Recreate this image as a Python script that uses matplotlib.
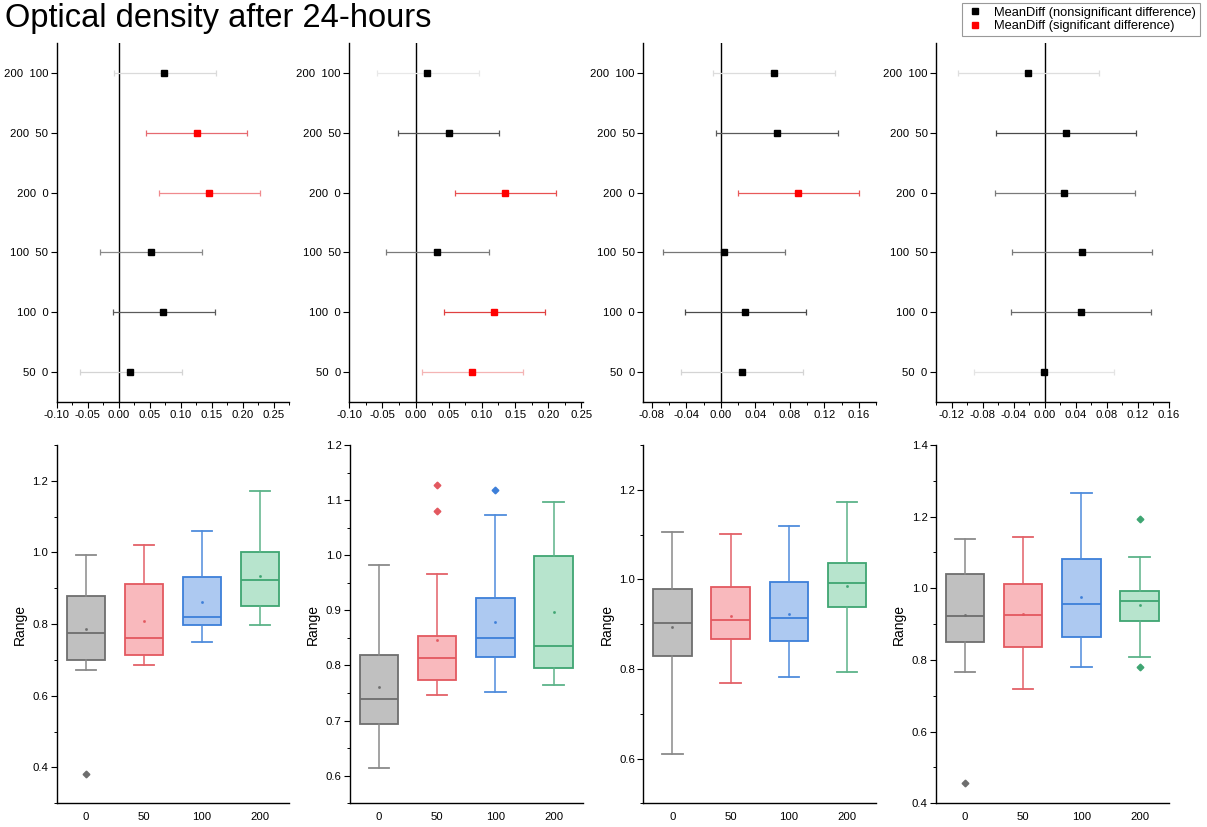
import matplotlib
matplotlib.use("Agg")
import matplotlib.pyplot as plt
from matplotlib.lines import Line2D
from matplotlib.ticker import MultipleLocator

plt.rcParams['font.family'] = ['Liberation Sans', 'DejaVu Sans']

# ====== DATA: MEAN DIFFERENCES (top row, order from top to bottom) =======
pair_labels = ["200  100", "200  50", "200  0", "100  50", "100  0", "50  0"]

md1_mean = [0.074, 0.127, 0.146, 0.052, 0.0715, 0.019]
md1_low = [-0.007, 0.0446, 0.065, -0.030, -0.0086, -0.062]
md1_high = [0.1575, 0.2075, 0.2285, 0.135, 0.155, 0.102]

md2_mean = [0.017, 0.050, 0.1355, 0.0325, 0.118, 0.0855]
md2_low = [-0.058, -0.0265, 0.059, -0.0445, 0.0425, 0.0095]
md2_high = [0.096, 0.1265, 0.2115, 0.110, 0.1945, 0.162]

md3_mean = [0.0614, 0.0649, 0.0897, 0.0031, 0.0283, 0.0249]
md3_low = [-0.0093, -0.0054, 0.0194, -0.0668, -0.0417, -0.0458]
md3_high = [0.132, 0.136, 0.160, 0.0742, 0.099, 0.0956]

md4_mean = [-0.0215, 0.0271, 0.0254, 0.0477, 0.0469, -0.0004]
md4_low = [-0.111, -0.0632, -0.064, -0.0426, -0.0434, -0.0908]
md4_high = [0.0697, 0.1174, 0.1166, 0.138, 0.1376, 0.0895]

# ====== DATA: BOX STATISTICS (bottom row) =======
groups = ["0", "50", "100", "200"]

b1_q1 = [0.700, 0.713, 0.799, 0.851]
b1_med = [0.775, 0.762, 0.8195, 0.922]
b1_q3 = [0.879, 0.912, 0.932, 1.000]
b1_lo = [0.673, 0.6865, 0.750, 0.799]
b1_hi = [0.993, 1.022, 1.0586, 1.173]
b1_mean = [0.787, 0.809, 0.8605, 0.935]
b1_out = [[0.381], [], [], []]

b2_q1 = [0.694, 0.7734, 0.8145, 0.7958]
b2_med = [0.7396, 0.8139, 0.8495, 0.8356]
b2_q3 = [0.8193, 0.8544, 0.9227, 0.9988]
b2_lo = [0.6145, 0.7456, 0.7523, 0.765]
b2_hi = [0.9819, 0.9668, 1.0731, 1.0973]
b2_mean = [0.7607, 0.846, 0.8785, 0.8967]
b2_out = [[], [1.127, 1.081], [1.119], []]

b3_q1 = [0.8284, 0.8671, 0.8626, 0.9391]
b3_med = [0.9035, 0.9094, 0.9139, 0.9926]
b3_q3 = [0.9792, 0.9822, 0.9948, 1.0371]
b3_lo = [0.610, 0.769, 0.7817, 0.7935]
b3_hi = [1.1055, 1.1017, 1.1196, 1.1738]
b3_mean = [0.893, 0.9183, 0.9235, 0.9844]
b3_out = [[], [], [], []]

b4_q1 = [0.8512, 0.8353, 0.8633, 0.9088]
b4_med = [0.9219, 0.9247, 0.9563, 0.9637]
b4_q3 = [1.041, 1.012, 1.0819, 0.9916]
b4_lo = [0.7665, 0.719, 0.7795, 0.8074]
b4_hi = [1.1367, 1.144, 1.266, 1.0884]
b4_mean = [0.9265, 0.9274, 0.9749, 0.9535]
b4_out = [[0.4567], [], [], [1.1935, 0.7814]]

# ====== STYLE =======
ebar_colors = [
    ["#dadada", "#e66a70", "#f08a8e", "#8a8a8a", "#5a5a5a", "#d4d4d4"],
    ["#e8e8e8", "#555555", "#e85050", "#7a7a7a", "#e04040", "#f4b4b4"],
    ["#dcdcdc", "#5a5a5a", "#e85a5a", "#767676", "#4a4a4a", "#d4d4d4"],
    ["#dedede", "#4a4a4a", "#7a7a7a", "#7a7a7a", "#6a6a6a", "#e4e4e4"],
]
box_fill = ["#c0c0c0", "#f9b9bd", "#adc9f1", "#b7e4cd"]
box_edge = ["#6e6e6e", "#e3585f", "#3d7fd9", "#3fa572"]
whisk_col = ["#8a8a8a", "#e36168", "#4f8cdc", "#5cb389"]

W, H = 1207.0, 827.0
top_x = [(56.7, 289.0), (349.3, 582.7), (643.3, 876.0), (936.0, 1168.7)]
bot_x = [(56.7, 289.0), (350.0, 582.7), (643.3, 876.0), (936.0, 1168.7)]


def rect(x0, x1, ytop, ybot):
    return [x0 / W, 1 - ybot / H, (x1 - x0) / W, (ybot - ytop) / H]


def style_axes(ax):
    for s in ['top', 'right']:
        ax.spines[s].set_visible(False)
    for s in ['left', 'bottom']:
        ax.spines[s].set_linewidth(1.0)
    ax.tick_params(labelsize=8.2, direction='out', length=4, width=0.8, pad=2)
    ax.tick_params(which='minor', length=2.5, width=0.7)


def plot_meandiff(ax, means, lows, highs, colors, xlim, major, minor):
    n = len(means)
    ypos = list(range(n, 0, -1))
    for i in range(n):
        m, lo, hi = means[i], lows[i], highs[i]
        ax.errorbar(m, ypos[i], xerr=[[m - lo], [hi - m]], fmt='none',
                    ecolor=colors[i], elinewidth=0.9, capsize=2.2, capthick=0.9, zorder=2)
        sig = lo > 0 or hi < 0
        ax.plot(m, ypos[i], marker='s', markersize=4.3, linestyle='none',
                color='#ff0000' if sig else 'black', zorder=4)
    ax.axvline(0, color='black', lw=1.0, zorder=1)
    ax.set_xlim(*xlim)
    ax.set_ylim(0.5, n + 0.5)
    ax.set_yticks(ypos)
    ax.set_yticklabels(pair_labels)
    ax.xaxis.set_major_locator(MultipleLocator(major))
    ax.xaxis.set_minor_locator(MultipleLocator(minor))
    ax.xaxis.set_major_formatter(plt.FuncFormatter(lambda v, p: f"{v:.2f}"))
    style_axes(ax)


def plot_box(ax, q1, med, q3, lo, hi, mean, out, ylim, major, minor):
    stats = []
    for i in range(len(groups)):
        stats.append({'q1': q1[i], 'med': med[i], 'q3': q3[i], 'whislo': lo[i],
                      'whishi': hi[i], 'mean': mean[i], 'fliers': out[i], 'label': groups[i]})
    pos = list(range(1, len(groups) + 1))
    arts = ax.bxp(stats, positions=pos, widths=0.66, patch_artist=True,
                  showmeans=True, showfliers=True)
    for i in range(len(groups)):
        arts['boxes'][i].set_facecolor(box_fill[i])
        arts['boxes'][i].set_edgecolor(box_edge[i])
        arts['boxes'][i].set_linewidth(1.3)
        arts['medians'][i].set_color(box_edge[i])
        arts['medians'][i].set_linewidth(1.3)
        for j in (2 * i, 2 * i + 1):
            arts['whiskers'][j].set_color(whisk_col[i])
            arts['whiskers'][j].set_linewidth(1.1)
            arts['caps'][j].set_color(whisk_col[i])
            arts['caps'][j].set_linewidth(1.3)
            arts['caps'][j].set_xdata([pos[i] - 0.175, pos[i] + 0.175])
        arts['means'][i].set(marker='s', markersize=0.9, markerfacecolor=box_edge[i],
                             markeredgecolor=box_edge[i])
        arts['fliers'][i].set(marker='D', markersize=3.4, markerfacecolor=box_edge[i],
                              markeredgecolor=box_edge[i])
    ax.set_xlim(0.5, len(groups) + 0.5)
    ax.set_ylim(*ylim)
    ax.yaxis.set_major_locator(MultipleLocator(major))
    ax.yaxis.set_minor_locator(MultipleLocator(minor))
    ax.yaxis.set_major_formatter(plt.FuncFormatter(lambda v, p: f"{v:.1f}"))
    ax.set_ylabel("Range", fontsize=10)
    style_axes(ax)
    ax.tick_params(axis='x', length=0, pad=6)


# ====== MAIN =======

def main():
    fig = plt.figure(figsize=(12.07, 8.27), dpi=100)

    md_sets = [(md1_mean, md1_low, md1_high, (-0.10, 0.275), 0.05, 0.025),
               (md2_mean, md2_low, md2_high, (-0.10, 0.252), 0.05, 0.025),
               (md3_mean, md3_low, md3_high, (-0.09, 0.18), 0.04, 0.02),
               (md4_mean, md4_low, md4_high, (-0.14, 0.16), 0.04, 0.02)]
    for k, (m, lo, hi, xl, mj, mn) in enumerate(md_sets):
        ax = fig.add_axes(rect(top_x[k][0], top_x[k][1], 43, 402))
        plot_meandiff(ax, m, lo, hi, ebar_colors[k], xl, mj, mn)

    box_sets = [(b1_q1, b1_med, b1_q3, b1_lo, b1_hi, b1_mean, b1_out, (0.3, 1.3), 0.2, 0.1),
                (b2_q1, b2_med, b2_q3, b2_lo, b2_hi, b2_mean, b2_out, (0.55, 1.2), 0.1, 0.05),
                (b3_q1, b3_med, b3_q3, b3_lo, b3_hi, b3_mean, b3_out, (0.5, 1.3), 0.2, 0.1),
                (b4_q1, b4_med, b4_q3, b4_lo, b4_hi, b4_mean, b4_out, (0.4, 1.4), 0.2, 0.1)]
    for k, (q1, med, q3, lo, hi, mean, out, yl, mj, mn) in enumerate(box_sets):
        ax = fig.add_axes(rect(bot_x[k][0], bot_x[k][1], 445, 803.3))
        plot_box(ax, q1, med, q3, lo, hi, mean, out, yl, mj, mn)

    fig.text(5 / W, 1 - 3 / H, "Optical density after 24-hours", fontsize=23.5,
             ha='left', va='top')

    handles = [Line2D([], [], marker='s', color='black', linestyle='none', markersize=4),
               Line2D([], [], marker='s', color='#ff0000', linestyle='none', markersize=4)]
    leg = fig.legend(handles, ["MeanDiff (nonsignificant difference)",
                               "MeanDiff (significant difference)"],
                     loc='upper right', bbox_to_anchor=(1200 / W, 1 - 3 / H),
                     fontsize=9.3, frameon=True, fancybox=False, borderpad=0.3,
                     handlelength=1.4, handletextpad=0.8, labelspacing=0.1,
                     borderaxespad=0)
    leg.get_frame().set_edgecolor('#808080')
    leg.get_frame().set_linewidth(0.8)

    fig.savefig("out.png", dpi=100)
    plt.close(fig)


if __name__ == "__main__":
    main()
